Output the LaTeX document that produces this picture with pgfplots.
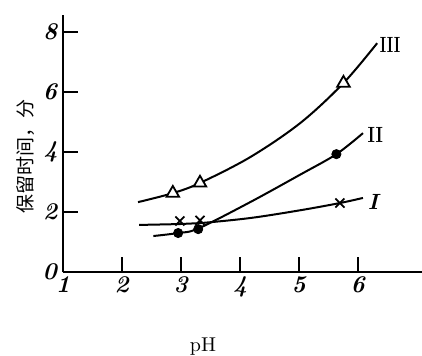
\documentclass[border=0pt]{standalone}
\usepackage{pgfplots}
\pgfplotsset{compat=1.18}
\usepackage{fontspec}
\newfontfamily\cjk{Noto Sans CJK SC}
\begin{document}
\begin{tikzpicture}
\path[use as bounding box] (-31.5pt,-41.5pt) rectangle (179.5pt,136pt);
\begin{axis}[
  scale only axis, width=179.5pt, height=128.5pt,
  xmin=1, xmax=7.08, ymin=0, ymax=8.57,
  axis x line=bottom, axis y line=left,
  axis line style={-, line width=1pt},
  xtick={1,2,3,4,5,6},
  xticklabels={\textbf{\textit{1}},\textbf{\textit{2}},\textbf{\textit{3}},\textbf{\textit{4}},\textbf{\textit{5}},\textbf{\textit{6}}},
  ytick={0,2,4,6,8},
  yticklabels={\textbf{\textit{0}},\textbf{\textit{2}},\textbf{\textit{4}},\textbf{\textit{6}},\textbf{\textit{8}}},
  tick align=inside, major tick length=7.5pt,
  tick style={line width=0.8pt, black},
  ticklabel style={font=\fontsize{12}{12}\selectfont},
  xticklabel style={yshift=1pt},
  yticklabel style={xshift=1pt},
  xlabel={pH},
  xlabel style={at={(rel axis cs:0.39,0)}, anchor=center, yshift=-37.5pt, font=\fontsize{10}{10}\selectfont},
  ylabel={\cjk 保留时间，分},
  ylabel style={at={([xshift=-18.5pt]rel axis cs:0,0.45)}, anchor=center, font=\fontsize{9.5}{9.5}\selectfont},
  clip=false,
]
% curve III
\addplot[black, line width=1pt, smooth, tension=0.55, no markers] coordinates {
 (2.27,2.33) (2.86,2.63) (3.32,2.97) (4.17,3.83) (5.02,4.97) (5.75,6.3) (6.32,7.63)};
% curve II
\addplot[black, line width=1pt, smooth, tension=0.55, no markers] coordinates {
 (2.53,1.2) (2.95,1.3) (3.29,1.45) (4.17,2.33) (5.02,3.25) (5.63,3.93) (6.08,4.63)};
% curve I
\addplot[black, line width=1pt, smooth, tension=0.55, no markers] coordinates {
 (2.29,1.57) (2.98,1.6) (3.32,1.63) (4.17,1.8) (5.02,2.06) (5.69,2.3) (6.08,2.47)};
% markers
\addplot[only marks, mark=triangle*, mark size=3.6pt, mark options={fill=white, draw=black, line width=0.9pt}] coordinates {
 (2.86,2.63) (3.32,2.97) (5.75,6.3)};
\addplot[only marks, mark=*, mark size=2.3pt, mark options={fill=black, draw=black}] coordinates {
 (2.95,1.3) (3.29,1.43) (5.63,3.93)};
\addplot[only marks, mark=x, mark size=3.2pt, mark options={draw=black, line width=0.9pt}] coordinates {
 (2.98,1.7) (3.32,1.72) (5.69,2.3)};
\node[font=\fontsize{11}{11}\selectfont\bfseries] at (axis cs:6.54,7.57) {\scalebox{0.7}[1]{III}};
\node[font=\fontsize{11}{11}\selectfont\bfseries] at (axis cs:6.29,4.57) {\scalebox{0.8}[1]{II}};
\node[font=\fontsize{11}{11}\selectfont\bfseries\itshape] at (axis cs:6.25,2.33) {I};
\end{axis}
\end{tikzpicture}
\end{document}
